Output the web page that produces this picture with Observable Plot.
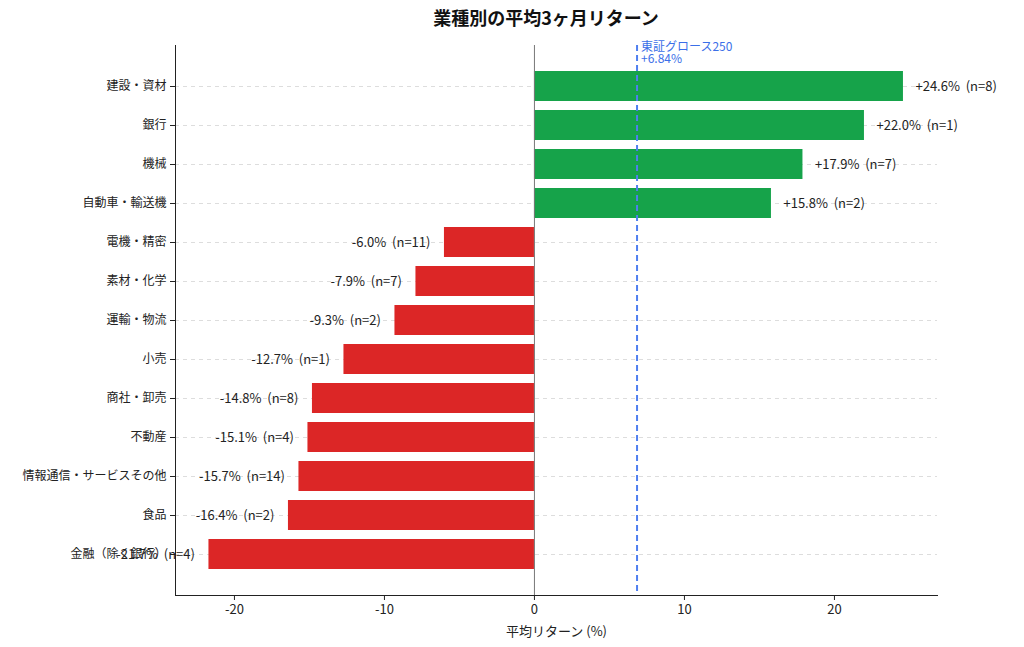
<!DOCTYPE html>
<html><head><meta charset="utf-8">
<script src="https://cdn.jsdelivr.net/npm/d3@7"></script>
<script src="https://cdn.jsdelivr.net/npm/@observablehq/plot@0.6"></script>
<style>
body{margin:0;background:#fff;font-family:"Noto Sans CJK JP","Noto Sans",sans-serif;}
#wrap{position:relative;width:1024px;height:647px;}
#title{position:absolute;top:4px;left:0;width:1092px;text-align:center;font-size:18px;font-weight:bold;color:#111;}
</style></head><body>
<div id="wrap"><div id="title">業種別の平均3ヶ月リターン</div><div id="chart"></div></div>
<script>
const categories=["建設・資材","銀行","機械","自動車・輸送機","電機・精密","素材・化学","運輸・物流","小売","商社・卸売","不動産","情報通信・サービスその他","食品","金融（除く銀行）"];
const values=[24.6,22.0,17.9,15.8,-6.0,-7.9,-9.3,-12.7,-14.8,-15.1,-15.7,-16.4,-21.7];
const counts=[8,1,7,2,11,7,2,1,8,4,14,2,4];
const benchmark=6.84;
const benchmarkLabel="東証グロース250\n+6.84%";
const xTicks=[-20,-10,0,10,20];
const data=categories.map((c,i)=>({c,v:values[i],n:counts[i],label:(values[i]>0?"+":"")+values[i].toFixed(1)+"%  (n="+counts[i]+")"}));
const font='"Noto Sans CJK JP","Noto Sans",sans-serif';
const chart=Plot.plot({
  width:1024,height:647,marginLeft:175,marginRight:87,marginTop:45,marginBottom:52,
  style:{fontFamily:font,fontSize:"12px",color:"#222"},
  x:{domain:[-23.93,26.87],ticks:xTicks},
  y:{domain:categories,range:[70,569.3],paddingInner:0.23,paddingOuter:0,label:null},
  marks:[
    Plot.ruleY(categories,{y:d=>d,stroke:"#ddd",strokeDasharray:"4,4"}),
    Plot.barX(data,{x:"v",y:"c",fill:d=>d.v>0?"#16a34a":"#dc2626"}),
    Plot.ruleX([0],{stroke:"#777",strokeWidth:1}),
    Plot.ruleX([benchmark],{stroke:"#4f7ff0",strokeWidth:2,strokeDasharray:"6,4"}),
    Plot.text([benchmark],{x:d=>d,frameAnchor:"top",dy:-3,text:()=>benchmarkLabel,textAnchor:"start",dx:4,lineAnchor:"top",fill:"#3b6fe8",fontSize:12}),
    Plot.text(data.filter(d=>d.v>0),{x:"v",y:"c",text:"label",textAnchor:"start",dx:12,fontSize:13,fill:"#222"}),
    Plot.text(data.filter(d=>d.v<0),{x:"v",y:"c",text:"label",textAnchor:"end",dx:-14,fontSize:13,fill:"#222"}),
    Plot.axisX({ticks:xTicks,tickFormat:d=>String(d),tickSize:5,fontSize:13,label:"平均リターン (%)",labelAnchor:"center",labelArrow:"none",labelOffset:40}),
    Plot.axisY({tickSize:5,fontSize:12,label:null}),
    Plot.frame({anchor:"bottom",stroke:"#222"}),
    Plot.frame({anchor:"left",stroke:"#222"})
  ]
});
document.getElementById("chart").appendChild(chart);
</script></body></html>
